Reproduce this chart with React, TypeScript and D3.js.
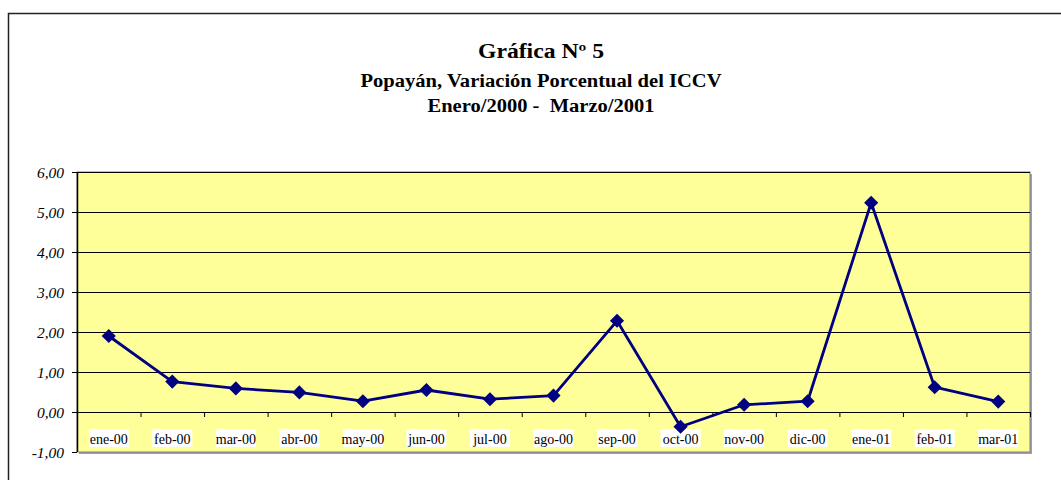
import { scaleLinear, scaleBand, line as d3line, symbol, symbolSquare } from "d3";

const categories = [
  "ene-00", "feb-00", "mar-00", "abr-00", "may-00", "jun-00", "jul-00", "ago-00",
  "sep-00", "oct-00", "nov-00", "dic-00", "ene-01", "feb-01", "mar-01",
];
const values = [1.9, 0.76, 0.59, 0.49, 0.27, 0.55, 0.32, 0.41, 2.28, -0.37, 0.18, 0.27, 5.23, 0.62, 0.26];
const yTicks = [6, 5, 4, 3, 2, 1, 0, -1];
const titleLines = ["Gráfica Nº 5", "Popayán, Variación Porcentual del ICCV", "Enero/2000 -  Marzo/2001"];

const W = 1061;
const H = 480;
const plot = { left: 77, right: 1030, top: 172, bottom: 452 };
const font = "'Liberation Serif', 'Times New Roman', serif";

export default function App() {
  const x = scaleBand<string>().domain(categories).range([plot.left, plot.right]);
  const y = scaleLinear().domain([-1, 6]).range([plot.bottom, plot.top]);
  const cx = (c: string) => (x(c) ?? 0) + x.bandwidth() / 2;

  const path = d3line<number>()
    .x((_, i) => cx(categories[i]))
    .y((d) => y(d))(values) ?? "";

  // square rotated 45deg -> Excel-style diamond marker
  const diamond = symbol().type(symbolSquare).size(100)() ?? "";
  const titleStyle = { fontFamily: font, fontWeight: "bold" as const, whiteSpace: "pre" as const };

  return (
    <svg width={W} height={H} style={{ position: "absolute", left: 0, top: 0, background: "#fff", fontFamily: font }}>
      {/* outer chart frame */}
      <rect x={8.5} y={13.5} width={1070} height={480} fill="#fff" stroke="#222" strokeWidth={1.5} />

      {/* titles (source picture is stretched a bit horizontally) */}
      <g textAnchor="middle" fill="#000">
        <text x={541} y={58} fontSize={20} style={titleStyle} textLength={126} lengthAdjust="spacingAndGlyphs">{titleLines[0]}</text>
        <text x={541} y={86.5} fontSize={18} style={titleStyle} textLength={361} lengthAdjust="spacingAndGlyphs">{titleLines[1]}</text>
        <text x={541} y={112} fontSize={18} style={titleStyle} xmlSpace="preserve" textLength={227} lengthAdjust="spacingAndGlyphs">{titleLines[2]}</text>
      </g>

      {/* plot area shadow + fill */}
      <rect x={plot.left + 2} y={plot.top + 2} width={plot.right - plot.left} height={plot.bottom - plot.top} fill="#a0a0a0" />
      <rect x={plot.left} y={plot.top} width={plot.right - plot.left} height={plot.bottom - plot.top} fill="#FFFF99" stroke="#808080" strokeWidth={1} />

      {/* gridlines */}
      {yTicks.filter((t) => t !== -1).map((t) => (
        <line key={t} x1={plot.left} x2={plot.right} y1={Math.round(y(t)) + 0.5} y2={Math.round(y(t)) + 0.5} stroke="#000" strokeWidth={1} />
      ))}

      {/* y axis */}
      <line x1={plot.left + 0.5} x2={plot.left + 0.5} y1={plot.top} y2={plot.bottom} stroke="#000" strokeWidth={1.5} />
      {yTicks.map((t) => (
        <g key={t}>
          <line x1={plot.left - 5} x2={plot.left} y1={Math.round(y(t)) + 0.5} y2={Math.round(y(t)) + 0.5} stroke="#000" />
          <text x={64} y={y(t) + 6} textAnchor="end" style={{ fontFamily: font, fontStyle: "italic" }} fontSize={15.5}>
            {t.toFixed(2).replace(".", ",")}
          </text>
        </g>
      ))}

      {/* x axis ticks at zero */}
      {categories.map((c) => (
        <line key={c} x1={(x(c) ?? 0) + x.bandwidth() + 0.5} x2={(x(c) ?? 0) + x.bandwidth() + 0.5}
          y1={y(0)} y2={y(0) + 5} stroke="#000" />
      ))}

      {/* x labels with white background */}
      {categories.map((c) => (
        <g key={c}>
          <rect x={cx(c) - 20} y={429} width={40} height={18} fill="#fff" />
          <text x={cx(c)} y={444} textAnchor="middle" style={{ fontFamily: font }} fontSize={14}>{c}</text>
        </g>
      ))}

      {/* series */}
      <path d={path} fill="none" stroke="#000080" strokeWidth={2.8} strokeLinejoin="round" />
      {values.map((v, i) => (
        <path key={i} d={diamond} transform={`translate(${cx(categories[i])},${y(v)}) rotate(45)`} fill="#000080" />
      ))}
    </svg>
  );
}
